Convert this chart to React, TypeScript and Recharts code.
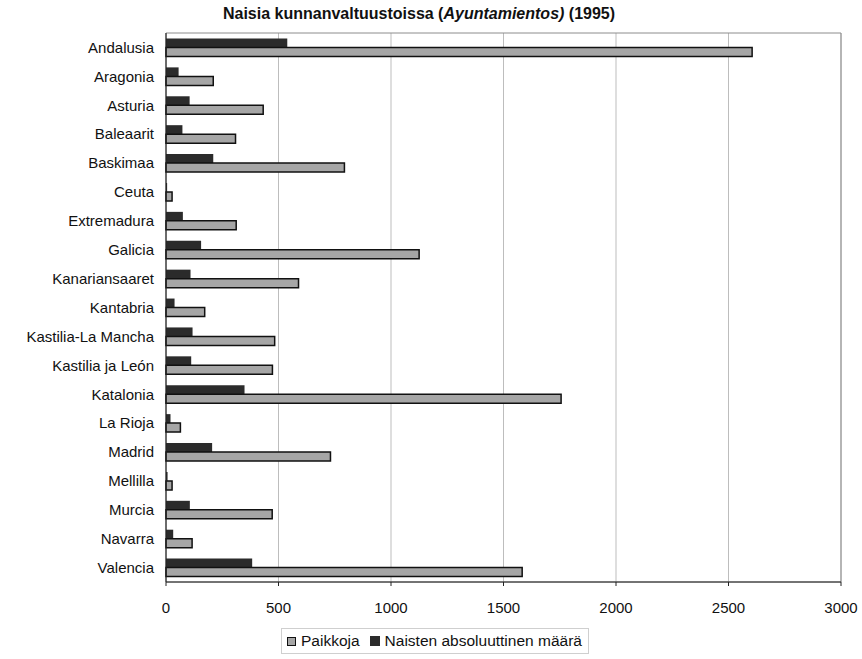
import {
  BarChart,
  Bar,
  XAxis,
  YAxis,
  CartesianGrid,
  ReferenceArea,
} from "recharts";

const regions = [
  "Andalusia",
  "Aragonia",
  "Asturia",
  "Baleaarit",
  "Baskimaa",
  "Ceuta",
  "Extremadura",
  "Galicia",
  "Kanariansaaret",
  "Kantabria",
  "Kastilia-La Mancha",
  "Kastilia ja León",
  "Katalonia",
  "La Rioja",
  "Madrid",
  "Mellilla",
  "Murcia",
  "Navarra",
  "Valencia",
];

// women, absolute number
const naisten = [
  539, 56, 105, 73, 210, 5, 75, 156, 109, 38, 118, 112, 349, 20, 205, 7, 106, 32, 383,
];

// seats
const paikkoja = [
  2605, 210, 432, 309, 793, 27, 312, 1125, 589, 172, 483, 473, 1756, 64, 731, 27, 472, 116, 1583,
];

const xTicks = [0, 500, 1000, 1500, 2000, 2500, 3000];

const seriesNames = ["Paikkoja", "Naisten absoluuttinen määrä"];

const data = regions.map((name, i) => ({
  name,
  naisten: naisten[i],
  paikkoja: paikkoja[i],
}));

const font = "'Liberation Sans', Arial, sans-serif";
const GRAY = "#a6a6a6";
const DARK = "#2b2b2b";

export default function App() {
  return (
    <div
      style={{
        position: "absolute",
        left: 0,
        top: 0,
        width: 862,
        height: 659,
        background: "#fff",
        fontFamily: font,
      }}
    >
      <div
        style={{
          position: "absolute",
          left: 0,
          top: 5,
          width: 848,
          paddingRight: 10,
          boxSizing: "border-box",
          textAlign: "center",
          fontSize: 16,
          fontWeight: "bold",
          color: "#111",
        }}
      >
        Naisia kunnanvaltuustoissa (<i>Ayuntamientos)</i> (1995)
      </div>

      <BarChart
        width={862}
        height={659}
        data={data}
        layout="vertical"
        margin={{ top: 33, right: 21, bottom: 47, left: 0 }}
        barCategoryGap="19%"
        barGap={0}
      >
        <CartesianGrid horizontal={false} stroke="#bdbdbd" />
        <ReferenceArea x1={0} x2={3000} fill="none" stroke="#8c8c8c" ifOverflow="visible" />
        <XAxis
          type="number"
          domain={[0, 3000]}
          ticks={xTicks}
          height={30}
          tickSize={4}
          tickMargin={16}
          stroke="#222"
          tick={{ fill: "#111", fontSize: 15, fontFamily: font }}
        />
        <YAxis
          type="category"
          dataKey="name"
          width={166}
          interval={0}
          tickLine={false}
          tickSize={6}
          tickMargin={6}
          stroke="#222"
          tick={{ fill: "#111", fontSize: 15, fontFamily: font }}
        />
        <Bar dataKey="naisten" name={seriesNames[1]} fill={DARK} isAnimationActive={false} />
        <Bar
          dataKey="paikkoja"
          name={seriesNames[0]}
          fill={GRAY}
          stroke="#111"
          strokeWidth={1.5}
          isAnimationActive={false}
        />
      </BarChart>

      <div
        style={{
          position: "absolute",
          left: 281,
          top: 628,
          width: 308,
          height: 26,
          border: "1px solid #cfcfcf",
          display: "flex",
          alignItems: "center",
          paddingLeft: 5,
          boxSizing: "border-box",
          fontSize: 15.5,
          color: "#111",
          gap: 10,
        }}
      >
        <span style={{ display: "inline-flex", alignItems: "center", gap: 5 }}>
          <span
            style={{
              width: 7,
              height: 7,
              background: GRAY,
              border: "1.5px solid #111",
              display: "inline-block",
            }}
          />
          {seriesNames[0]}
        </span>
        <span style={{ display: "inline-flex", alignItems: "center", gap: 5 }}>
          <span
            style={{ width: 10, height: 10, background: DARK, display: "inline-block" }}
          />
          {seriesNames[1]}
        </span>
      </div>
    </div>
  );
}
